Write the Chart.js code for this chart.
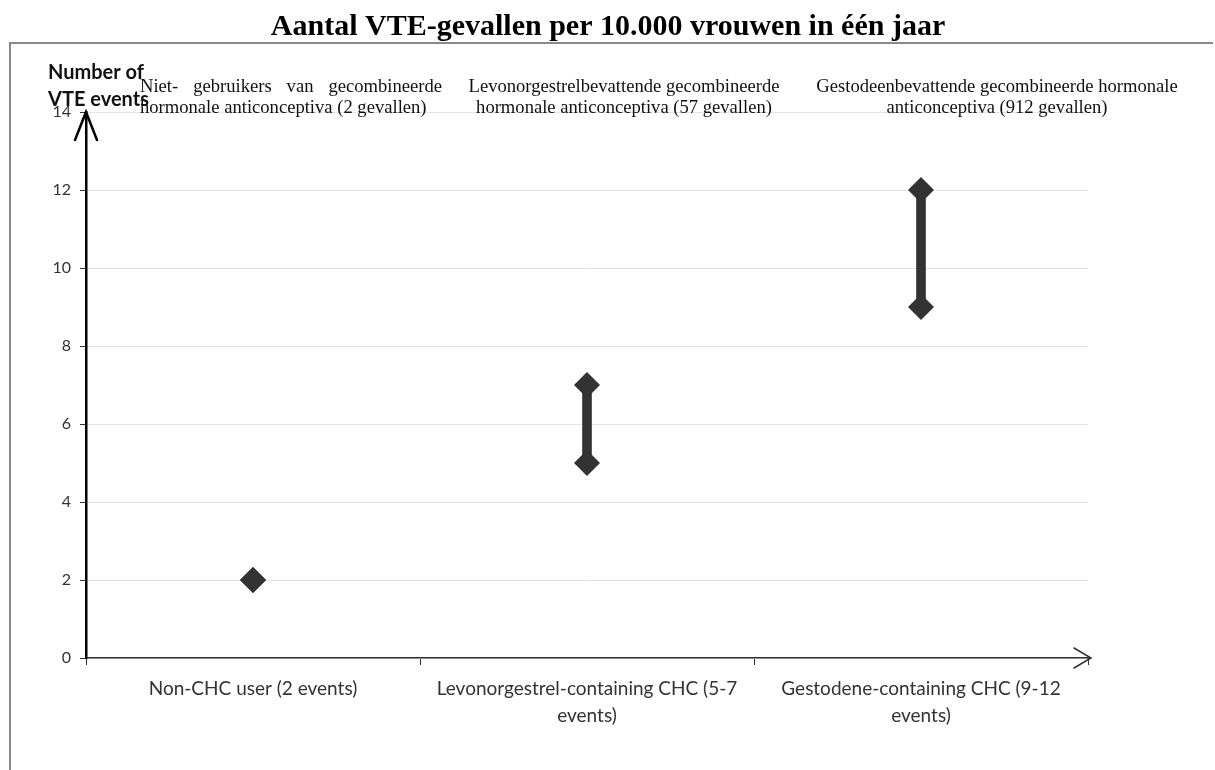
<!DOCTYPE html>
<html lang="nl">
<head>
  <meta charset="UTF-8">
  <title>Aantal VTE-gevallen</title>
  <script src="https://cdn.jsdelivr.net/npm/chart.js"></script>
  <style>
    html, body { margin: 0; padding: 0; background: #fff; }
    #wrap { width: 1215px; height: 770px; }
  </style>
</head>
<body>
<div id="wrap"><canvas id="vteChart"></canvas></div>

<script>
// data
const categories = [
  'Non-CHC user (2 events)',
  ['Levonorgestrel-containing CHC (5-7', 'events)'],
  ['Gestodene-containing CHC (9-12', 'events)']
];
const lowEvents = [2, 5, 9];
const highEvents = [2, 7, 12];
const yTicks = [0, 2, 4, 6, 8, 10, 12, 14];

const chartTitle = 'Aantal VTE-gevallen per 10.000 vrouwen in één jaar';
const notes = [
  { lines: ['Niet- gebruikers van gecombineerde', 'hormonale anticonceptiva (2 gevallen)'], x: 140, w: 302, align: 'justify' },
  { lines: ['Levonorgestrelbevattende gecombineerde', 'hormonale anticonceptiva (57 gevallen)'], x: 624, align: 'center' },
  { lines: ['Gestodeenbevattende gecombineerde hormonale', 'anticonceptiva (912 gevallen)'], x: 997, align: 'center' }
];

const sansFont = 'Lato, "Open Sans", sans-serif';
const serifFont = '"Liberation Serif", "DejaVu Serif", serif';

// title, arrows, frame, axis title and the Dutch notes
const extras = {
  id: 'extras',
  afterDraw(chart) {
    const ctx = chart.ctx;
    const a = chart.chartArea;
    const y0 = chart.scales.y.getPixelForValue(0);
    ctx.save();

    // title
    ctx.fillStyle = '#000';
    ctx.font = 'bold 30px ' + serifFont;
    ctx.textAlign = 'center';
    ctx.textBaseline = 'alphabetic';
    ctx.fillText(chartTitle, 608, 35);

    // frame
    ctx.strokeStyle = '#8a8a8a';
    ctx.lineWidth = 2;
    ctx.beginPath();
    ctx.moveTo(10, 770);
    ctx.lineTo(10, 43);
    ctx.lineTo(1213, 43);
    ctx.stroke();

    // y arrow head
    ctx.strokeStyle = '#000';
    ctx.lineWidth = 2.5;
    ctx.lineCap = 'round';
    ctx.beginPath();
    ctx.moveTo(a.left - 11, a.top + 28);
    ctx.lineTo(a.left, a.top);
    ctx.lineTo(a.left + 11, a.top + 28);
    ctx.stroke();

    // x arrow
    ctx.strokeStyle = '#333';
    ctx.lineWidth = 1.5;
    ctx.beginPath();
    ctx.moveTo(a.right, y0);
    ctx.lineTo(a.right + 3, y0);
    ctx.moveTo(a.right - 14, y0 - 10);
    ctx.lineTo(a.right + 3, y0);
    ctx.lineTo(a.right - 14, y0 + 10);
    ctx.stroke();

    // axis title
    ctx.fillStyle = '#111';
    ctx.font = 'bold 20px ' + sansFont;
    ctx.textAlign = 'left';
    ctx.textBaseline = 'middle';
    ctx.fillText('Number of', 48, 73);
    ctx.fillText('VTE events', 48, 100);

    // notes
    ctx.font = '18.6px ' + serifFont;
    notes.forEach(n => {
      n.lines.forEach((line, i) => {
        const ly = 87 + i * 21;
        if (n.align === 'justify' && i === 0) {
          const words = line.split(' ');
          const used = words.reduce((s, w) => s + ctx.measureText(w).width, 0);
          const gap = (n.w - used) / (words.length - 1);
          let x = n.x;
          ctx.textAlign = 'left';
          words.forEach(w => {
            ctx.fillText(w, x, ly);
            x += ctx.measureText(w).width + gap;
          });
        } else if (n.align === 'justify') {
          ctx.textAlign = 'left';
          ctx.fillText(line, n.x, ly);
        } else {
          ctx.textAlign = 'center';
          ctx.fillText(line, n.x, ly);
        }
      });
    });
    ctx.restore();
  }
};

const markStyle = {
  type: 'line',
  showLine: false,
  pointStyle: 'rectRot',
  pointRadius: 13,
  pointHoverRadius: 13,
  backgroundColor: '#333',
  borderColor: '#333',
  borderWidth: 0
};

new Chart(document.getElementById('vteChart'), {
  type: 'bar',
  data: {
    labels: categories,
    datasets: [
      {
        label: 'range',
        data: lowEvents.map((v, i) => [v, highEvents[i]]),
        backgroundColor: '#333',
        barThickness: 9,
        borderSkipped: false
      },
      Object.assign({ label: 'low', data: lowEvents }, markStyle),
      Object.assign({ label: 'high', data: highEvents }, markStyle)
    ]
  },
  plugins: [extras],
  options: {
    responsive: true,
    maintainAspectRatio: false,
    animation: false,
    layout: { padding: { left: 0, right: 127, top: 112, bottom: 0 } },
    plugins: {
      legend: { display: false },
      tooltip: { enabled: false },
      title: { display: false }
    },
    scales: {
      x: {
        offset: true,
        afterFit: s => { s.height = 112; },
        grid: { display: true, drawOnChartArea: false, drawTicks: true, tickLength: 7, tickColor: '#333', offset: true },
        border: { display: true, color: '#333', width: 1.5 },
        ticks: {
          color: '#333',
          font: { family: sansFont, size: 19, lineHeight: 1.45 },
          padding: 10,
          maxRotation: 0,
          autoSkip: false
        }
      },
      y: {
        min: 0,
        max: 14,
        afterFit: s => { s.width = 86; },
        afterBuildTicks: s => { s.ticks = yTicks.map(v => ({ value: v })); },
        grid: { color: '#e4e4e4', lineWidth: 1, drawTicks: true, tickLength: 6, tickColor: '#333' },
        border: { display: true, color: '#000', width: 2.5 },
        ticks: {
          color: '#333',
          font: { family: sansFont, size: 16 },
          padding: 9
        }
      }
    }
  }
});
</script>
</body>
</html>
